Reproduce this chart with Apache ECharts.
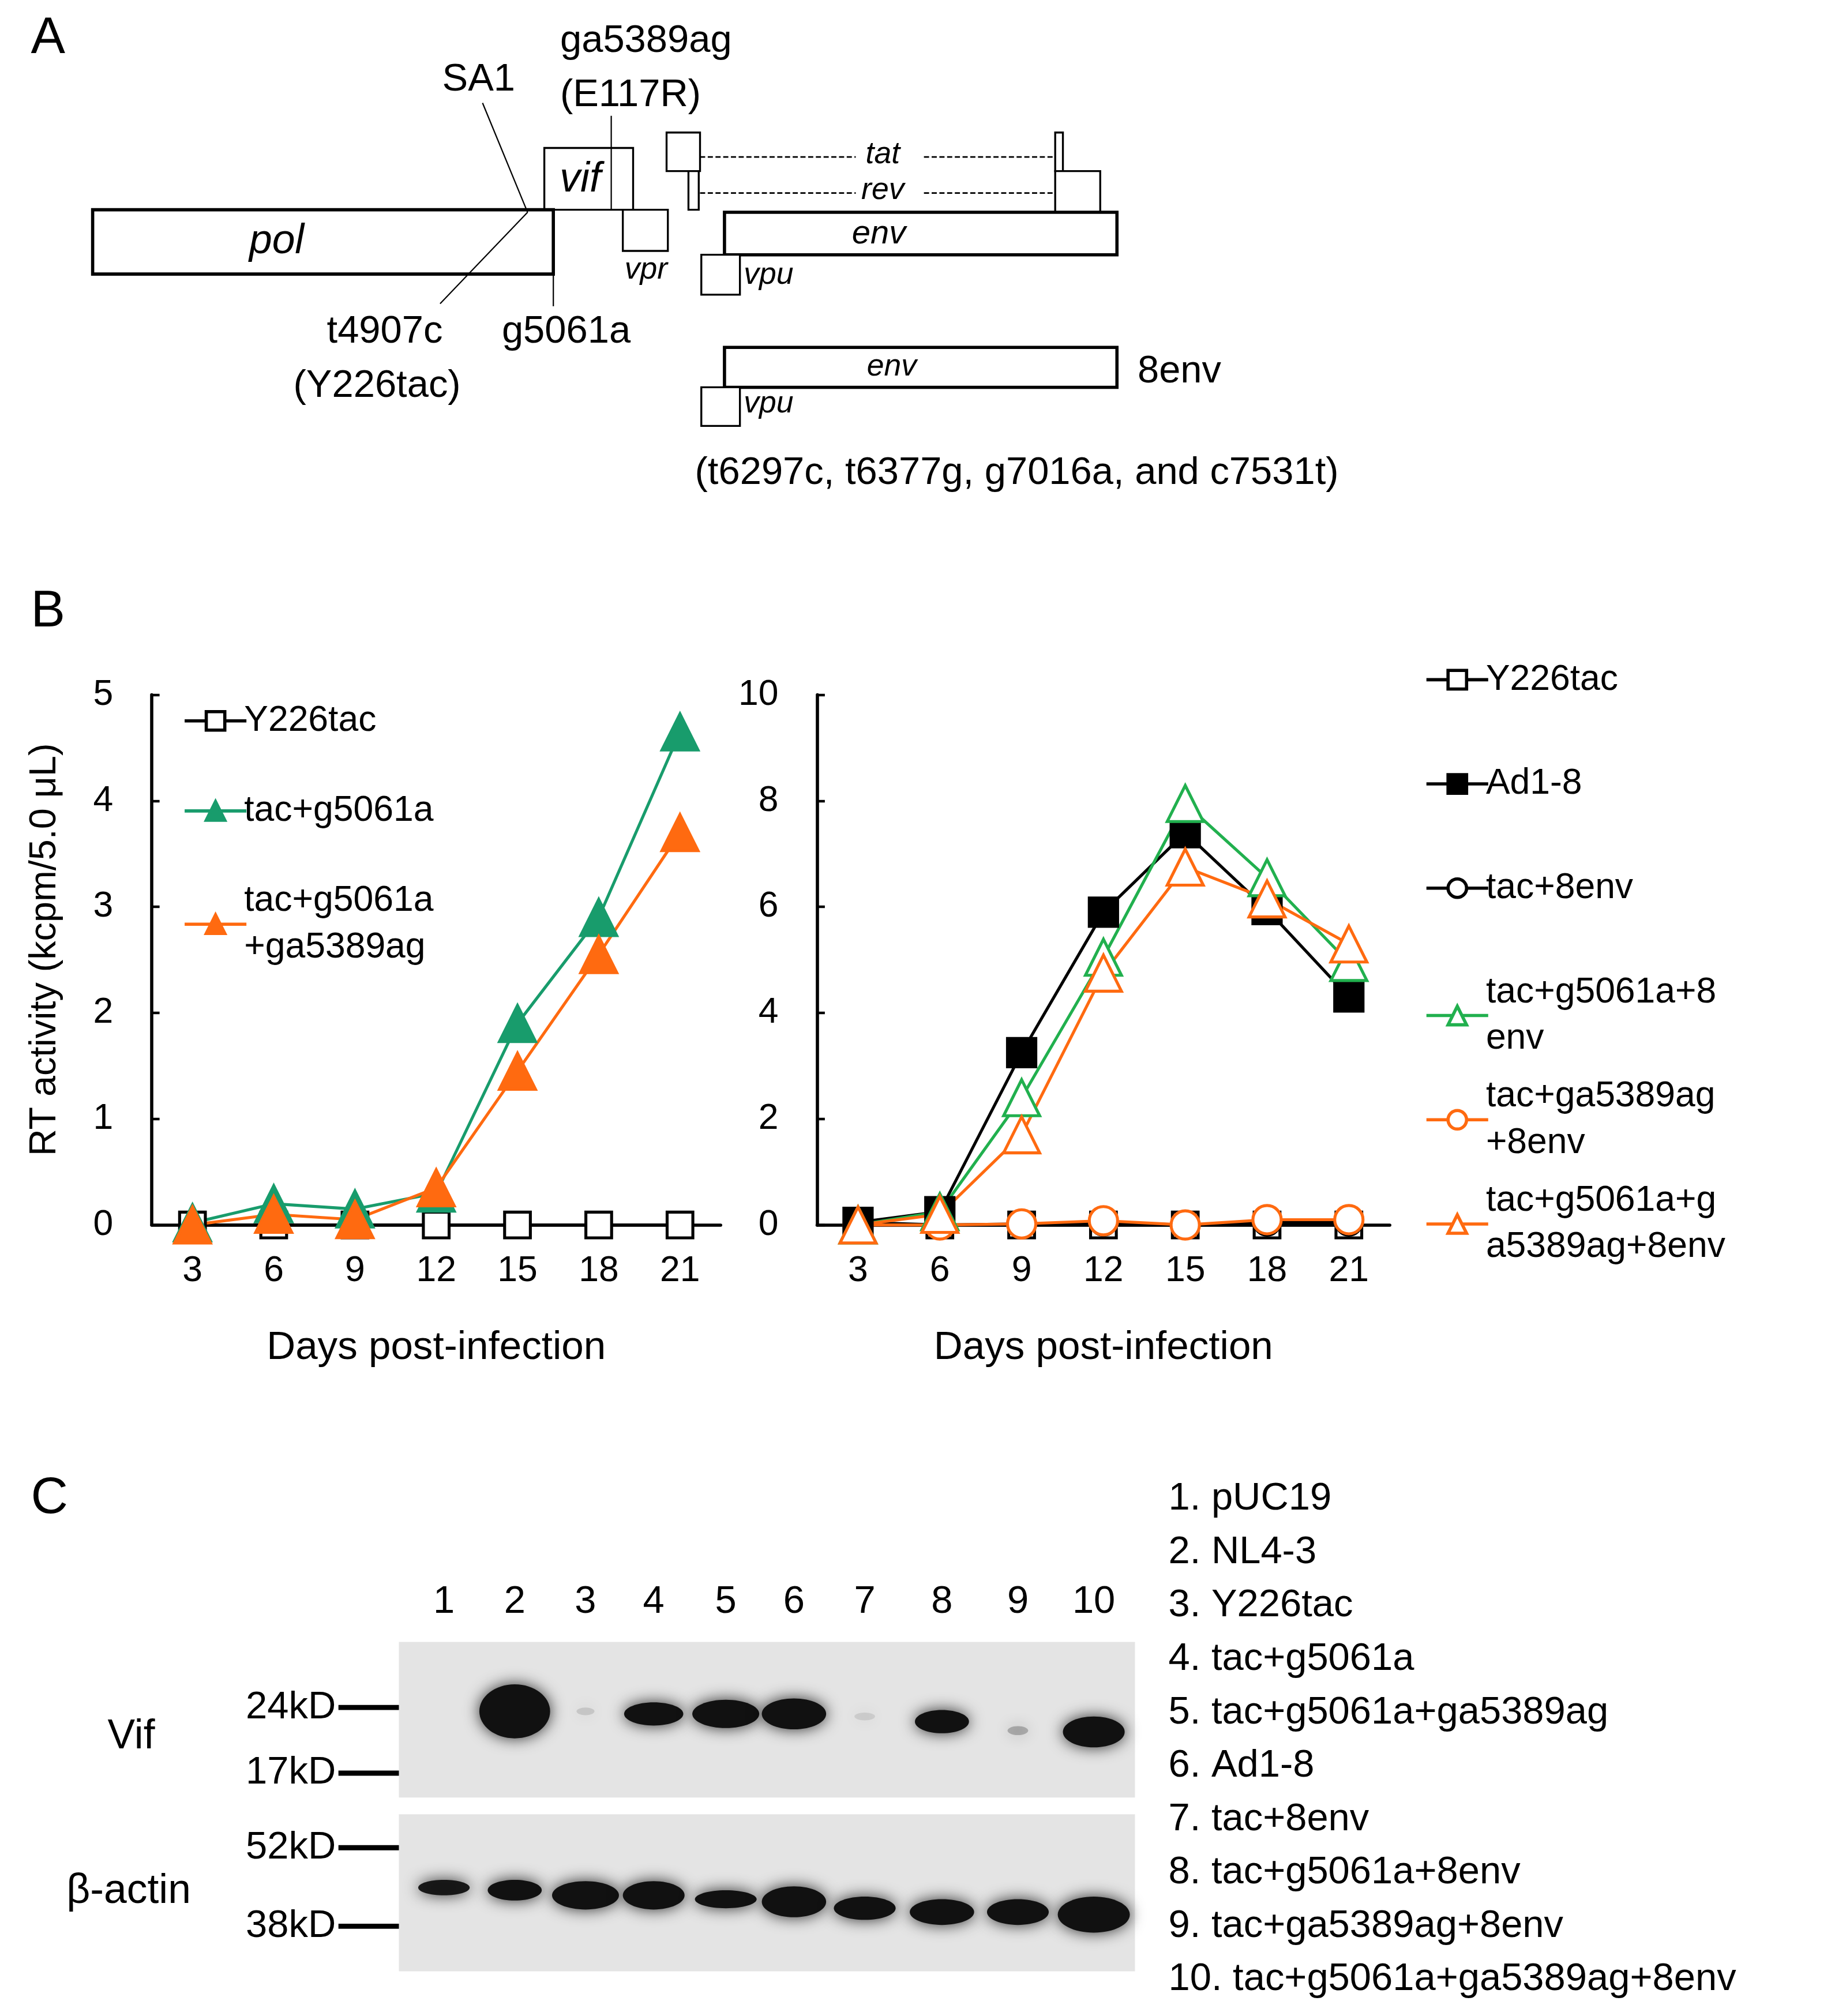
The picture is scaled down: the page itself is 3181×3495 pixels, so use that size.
<!DOCTYPE html>
<html>
<head>
<meta charset="utf-8">
<script src="https://cdn.jsdelivr.net/npm/echarts@6/dist/echarts.min.js"></script>
<style>html,body{margin:0;padding:0;background:#fff}#main{width:3181px;height:3495px}</style>
</head>
<body>
<div id="main"></div>
<script>
// data
var days = ['3', '6', '9', '12', '15', '18', '21'];
var leftY226tac = [0, 0, 0, 0, 0, 0, 0];
var leftG5061a = [0.02, 0.2, 0.15, 0.3, 1.9, 2.9, 4.65];
var leftG5061aGa = [0, 0.1, 0.05, 0.35, 1.45, 2.55, 3.7];
var rightY226tac = [0, 0, 0, 0, 0, 0, 0];
var rightAd18 = [0.05, 0.25, 3.25, 5.9, 7.4, 5.95, 4.3];
var rightTac8env = [0.05, 0, 0.02, 0.05, 0, 0.05, 0.05];
var rightG5061a8env = [0, 0.25, 2.4, 5.05, 7.95, 6.55, 4.95];
var rightGa8env = [0, 0, 0.02, 0.08, 0, 0.1, 0.1];
var rightG5061aGa8env = [0, 0.2, 1.7, 4.75, 6.75, 6.15, 5.3];
var leftNames = ['Y226tac', 'tac+g5061a', 'tac+g5061a\n+ga5389ag'];
var rightNames = ['Y226tac ', 'Ad1-8', 'tac+8env', 'tac+g5061a+8\nenv', 'tac+ga5389ag\n+8env', 'tac+g5061a+g\na5389ag+8env'];
var laneNames = ['1. pUC19', '2. NL4-3', '3. Y226tac', '4. tac+g5061a', '5. tac+g5061a+ga5389ag',
  '6. Ad1-8', '7. tac+8env', '8. tac+g5061a+8env', '9. tac+ga5389ag+8env', '10. tac+g5061a+ga5389ag+8env'];
// blot bands per lane: [width, height, y centre, opacity]
var vifBands = [[0,0,0,0],[55,42,1330,1],[14,6,1330,0.12],[46,18,1332,1],[52,22,1332,1],[50,24,1332,1],[16,6,1334,0.1],[42,18,1338,1],[16,7,1345,0.25],[48,24,1346,1]];
var actinBands = [[40,12,1467,0.95],[42,16,1469,1],[52,22,1473,1],[48,22,1473,1],[48,14,1476,1],[50,24,1478,1],[48,18,1483,1],[50,20,1486,1],[48,20,1486,1],[56,28,1488,1]];
var laneX = [345, 400, 455, 508, 564, 617, 672, 732, 791, 850];

var S = 3181 / 1426;
var FONT = 'Liberation Sans';
var GREEN = '#189c6c', GREEN2 = '#21b04e', ORANGE = '#ff6a10';

var g = [];
function t(str, x, y, size, o) {
  o = o || {};
  g.push({type: 'text', x: x * S, y: y * S, rotation: o.rot || 0,
    style: {text: str, fontFamily: FONT, fontSize: size * S, fontStyle: o.italic ? 'italic' : 'normal',
      fill: '#000', textAlign: o.align || 'left', textVerticalAlign: 'middle'}});
}
function r(x, y, w, h, lw) {
  g.push({type: 'rect', shape: {x: x * S, y: y * S, width: w * S, height: h * S},
    style: {fill: '#fff', stroke: '#000', lineWidth: (lw || 1.5) * S}});
}
function l(x1, y1, x2, y2, lw, dash) {
  g.push({type: 'line', shape: {x1: x1 * S, y1: y1 * S, x2: x2 * S, y2: y2 * S},
    style: {stroke: '#000', lineWidth: (lw || 1) * S, lineDash: dash ? [4 * S, 2 * S] : null}});
}

// panel A
t('A', 24, 30, 40);
r(423, 115, 69, 48);
r(72, 163, 358, 50, 2.5);
r(484, 163, 35, 32);
r(518, 103, 26, 30);
r(535, 133, 8, 30);
r(820, 103, 6, 30);
r(820, 133, 35, 32);
r(563, 165, 305, 33, 2.5);
r(545, 198, 30, 31);
r(563, 270, 305, 31, 2.5);
r(545, 301, 30, 30);
l(375, 80, 410, 165); l(410, 165, 342, 236);
l(475, 90, 475, 163);
l(430, 213, 430, 238);
l(544, 122, 665, 122, 1.3, true); l(718, 122, 820, 122, 1.3, true);
l(544, 150, 665, 150, 1.3, true); l(718, 150, 820, 150, 1.3, true);
t('vif', 451, 140, 32, {italic: true, align: 'center'});
t('pol', 215, 188, 32, {italic: true, align: 'center'});
t('vpr', 502, 210, 24, {italic: true, align: 'center'});
t('tat', 686, 120, 24, {italic: true, align: 'center'});
t('rev', 686, 148, 24, {italic: true, align: 'center'});
t('env', 683, 182, 26, {italic: true, align: 'center'});
t('vpu', 578, 214, 24, {italic: true});
t('env', 693, 285, 24, {italic: true, align: 'center'});
t('vpu', 578, 314, 24, {italic: true});
t('SA1', 372, 62, 30, {align: 'center'});
t('ga5389ag', 502, 32, 30, {align: 'center'});
t('(E117R)', 490, 74, 30, {align: 'center'});
t('t4907c', 299, 258, 30, {align: 'center'});
t('g5061a', 440, 258, 30, {align: 'center'});
t('(Y226tac)', 293, 300, 30, {align: 'center'});
t('8env', 884, 289, 30);
t('(t6297c, t6377g, g7016a, and c7531t)', 540, 368, 30);

// panel B
t('B', 24, 476, 40);
t('RT activity (kcpm/5.0 μL)', 35, 738, 29, {rot: Math.PI / 2, align: 'center'});

// panel C
t('C', 24, 1165, 40);
g.push({type: 'rect', shape: {x: 310 * S, y: 1276 * S, width: 572 * S, height: 121 * S}, style: {fill: '#e4e4e4'}});
g.push({type: 'rect', shape: {x: 310 * S, y: 1410 * S, width: 572 * S, height: 122 * S}, style: {fill: '#e4e4e4'}});
function bands(arr) {
  arr.forEach(function (b, i) {
    if (!b[3]) return;
    g.push({type: 'ellipse', shape: {cx: laneX[i] * S, cy: b[2] * S, rx: b[0] / 2 * S, ry: b[1] / 2 * S},
      style: {fill: '#111', opacity: b[3], shadowBlur: 12 * S, shadowColor: 'rgba(0,0,0,0.8)'}});
  });
}
bands(vifBands);
bands(actinBands);
laneX.forEach(function (x, i) { t(String(i + 1), x, 1245, 30, {align: 'center'}); });
[['24kD', 1327], ['17kD', 1378], ['52kD', 1436], ['38kD', 1497]].forEach(function (m) {
  t(m[0], 261, m[1], 30, {align: 'right'});
  l(263, m[1], 310, m[1], 4);
});
t('Vif', 102, 1350, 32, {align: 'center'});
t('β-actin', 100, 1470, 32, {align: 'center'});
laneNames.forEach(function (n, i) { t(n, 908, 1165 + i * 41.5, 30); });

var lbl = {fontFamily: FONT, fontSize: 28 * S, color: '#000'};
function axisX(gi) {
  return {type: 'category', gridIndex: gi, data: days, boundaryGap: true,
    name: 'Days post-infection', nameLocation: 'middle', nameGap: 80 * S,
    nameTextStyle: {fontFamily: FONT, fontSize: 31 * S, color: '#000'},
    axisLine: {lineStyle: {color: '#000', width: 2.5 * S}},
    axisTick: {inside: true, length: 6 * S, lineStyle: {color: '#000', width: 2 * S}},
    axisLabel: Object.assign({margin: 22 * S}, lbl)};
}
function axisY(gi, max, iv) {
  return {type: 'value', gridIndex: gi, min: 0, max: max, interval: iv,
    splitLine: {show: false},
    axisLine: {show: true, lineStyle: {color: '#000', width: 2.5 * S}},
    axisTick: {show: true, inside: true, length: 6 * S, lineStyle: {color: '#000', width: 2 * S}},
    axisLabel: Object.assign({margin: 30 * S}, lbl)};
}
function ser(name, data, idx, color, symbol, size, filled) {
  return {name: name, type: 'line', data: data, xAxisIndex: idx, yAxisIndex: idx,
    symbol: symbol, symbolSize: size * S, showAllSymbol: true, clip: false,
    lineStyle: {color: color, width: 2.3 * S},
    itemStyle: {color: filled ? color : '#fff', borderColor: color, borderWidth: 2.3 * S}};
}
function leg(name, x, y) {
  return {orient: 'vertical', left: x * S, top: y * S, itemWidth: 48 * S, itemHeight: 18 * S, itemGap: 0,
    lineStyle: {width: 2.5 * S}, itemStyle: {borderWidth: 2.5 * S},
    textStyle: {fontFamily: FONT, fontSize: 28 * S, color: '#000', lineHeight: 36 * S, padding: [0, 0, 0, -4 * S]},
    data: [{name: name}]};
}
var legends = [];
leftNames.forEach(function (n, i) { legends.push(leg(n, 140, 540 + i * 70)); });
rightNames.forEach(function (n, i) { legends.push(leg(n, 1105, 508 + i * 81)); });

var chart = echarts.init(document.getElementById('main'), null, {renderer: 'canvas'});
chart.setOption({
  backgroundColor: '#fff',
  animation: false,
  textStyle: {fontFamily: FONT},
  grid: [
    {left: 118 * S, top: 540 * S, width: 442 * S, height: 412 * S},
    {left: 635 * S, top: 540 * S, width: 445 * S, height: 412 * S}
  ],
  xAxis: [axisX(0), axisX(1)],
  yAxis: [axisY(0, 5, 1), axisY(1, 10, 2)],
  legend: legends,
  series: [
    ser(leftNames[0], leftY226tac, 0, '#000', 'rect', 20, false),
    ser(leftNames[1], leftG5061a, 0, GREEN, 'triangle', 28, true),
    ser(leftNames[2], leftG5061aGa, 0, ORANGE, 'triangle', 28, true),
    ser(rightNames[0], rightY226tac, 1, '#000', 'rect', 20, false),
    ser(rightNames[2], rightTac8env, 1, '#000', 'circle', 20, false),
    ser(rightNames[4], rightGa8env, 1, ORANGE, 'circle', 22, false),
    ser(rightNames[1], rightAd18, 1, '#000', 'rect', 22, true),
    ser(rightNames[3], rightG5061a8env, 1, GREEN2, 'triangle', 28, false),
    ser(rightNames[5], rightG5061aGa8env, 1, ORANGE, 'triangle', 28, false)
  ],
  graphic: g
});
</script>
</body>
</html>
